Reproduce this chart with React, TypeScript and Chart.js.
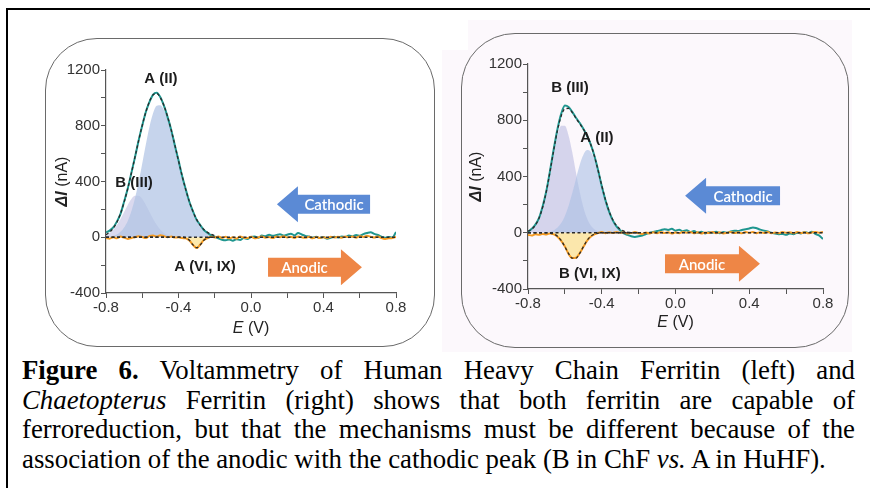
import React, { useEffect, useRef } from 'react';
import { Chart, registerables } from 'chart.js';
Chart.register(...registerables);

// ---------- data ----------
const potential = [
  -0.8, -0.78, -0.76, -0.74, -0.72, -0.7, -0.68, -0.66, -0.64, -0.62,
  -0.6, -0.58, -0.56, -0.54, -0.52, -0.5, -0.48, -0.46, -0.44, -0.42,
  -0.4, -0.38, -0.36, -0.34, -0.32, -0.3, -0.28, -0.26, -0.24, -0.22,
  -0.2, -0.18, -0.16, -0.14, -0.12, -0.1, -0.08, -0.06, -0.04, -0.02,
  0.0, 0.02, 0.04, 0.06, 0.08, 0.1, 0.12, 0.14, 0.16, 0.18,
  0.2, 0.22, 0.24, 0.26, 0.28, 0.3, 0.32, 0.34, 0.36, 0.38,
  0.4, 0.42, 0.44, 0.46, 0.48, 0.5, 0.52, 0.54, 0.56, 0.58,
  0.6, 0.62, 0.64, 0.66, 0.68, 0.7, 0.72, 0.74, 0.76, 0.78,
  0.8,
];
const fitPotential = [
  -0.8, -0.78, -0.76, -0.74, -0.72, -0.7, -0.68, -0.66, -0.64, -0.62,
  -0.6, -0.58, -0.56, -0.54, -0.52, -0.5, -0.48, -0.46, -0.44, -0.42,
  -0.4, -0.38, -0.36, -0.34, -0.32, -0.3, -0.28, -0.26, -0.24, -0.22,
  -0.2,
];
const baselinePotential = [-0.8, 0.8];
const baselineCurrent = [0, 0];

// Human heavy chain ferritin (left)
const huhfCathodic = [
  35, 48, 70, 112, 168, 256, 350, 462, 575, 694,
  801, 900, 972, 1024, 1036, 1004, 942, 862, 770, 658,
  552, 440, 345, 255, 186, 126, 88, 52, 32, 14,
  4, -8, -18, -22, -16, -25, -14, -20, -6, -12,
  2, 6, -4, 12, 8, 18, 10, 16, 22, 12,
  18, 26, 14, 30, 20, 10, 6, -4, 4, -6,
  2, -10, -4, 4, -2, 6, 2, 12, 6, 16,
  10, 22, 30, 36, 24, 16, 4, -4, 2, -2,
  38,
];
const huhfAnodic = [
  -5, -10, 0, -8, 5, -3, -12, -5, 0, 8,
  2, -6, 10, 12, 5, 15, 8, 0, 5, -2,
  0, -6, -8, -24, -55, -78, -52, -20, -6, 4,
  -2, 6, -5, 3, -8, 0, -10, 5, -3, -6,
  4, -8, -2, 6, -4, 2, -6, 5, 0, 8,
  -2, 4, -5, 6, 0, -4, 3, -8, 2, -5,
  0, -6, 4, -2, 3, -4, 6, 0, 5, -3,
  8, 2, 10, 4, -2, 6, -6, -12, -8, -5,
  2,
];
const huhfFitA = [
  2, 5, 11, 20, 39, 70, 117, 186, 279, 396,
  529, 667, 793, 891, 944, 947, 912, 848, 760, 658,
  548, 441, 342, 256, 184, 128, 86, 56, 35, 21,
  12,
];
const huhfFitB = [
  16, 31, 54, 87, 131, 182, 232, 274, 297, 297,
  274, 232, 182, 131, 87, 54, 31, 16, 8, 3,
  1, 0, 0, 0, 0, 0, 0, 0, 0, 0,
  0,
];
const huhfFitAnodic = [
  0, 0, 0, 0, 0, 0, 0, 0, 0, 0,
  0, 0, 0, 0, 0, 0, 0, 0, 0, 0,
  0, 0, -4, -21, -55, -75, -55, -21, -4, 0,
  0,
];

// Chaetopterus ferritin (right)
const chfCathodic = [
  5, 28, 58, 106, 190, 300, 445, 598, 738, 845,
  905, 895, 860, 818, 782, 740, 690, 628, 548, 446,
  332, 232, 150, 88, 45, 18, -5, -15, -25, -30,
  -25, -20, -10, 0, 5, 12, 18, 25, 20, 28,
  15, 22, 10, 18, 5, 12, 0, 8, -5, 3,
  0, 8, -3, 5, 0, 10, 15, 12, 20, 25,
  30, 38, 32, 22, 15, 10, 0, -5, -10, -8,
  -15, -5, -10, 0, -5, 5, -2, 8, -10, -20,
  -45,
];
const chfAnodic = [
  -15, -20, -10, -15, -8, -12, -5, -12, -28, -58,
  -98, -150, -180, -178, -146, -102, -58, -28, -12, -2,
  5, -3, 4, -2, 6, 0, 4, -6, -2, 5,
  -4, -8, 2, -5, 3, -3, 6, -2, 4, -5,
  2, -3, 6, 0, 5, -4, 3, -6, 2, -2,
  5, -3, 4, -5, 0, 6, -2, 3, -4, 5,
  0, 6, -3, 4, -2, 5, -4, 2, -3, 6,
  0, 4, -3, 5, -2, 3, -4, 2, 6, 0,
  5,
];
const chfFitA = [
  0, 0, 0, 0, 1, 3, 8, 18, 37, 69,
  120, 192, 282, 383, 480, 553, 588, 576, 521, 433,
  332, 235, 153, 92, 51, 26, 12, 5, 2, 1,
  0,
];
const chfFitB = [
  11, 25, 54, 104, 184, 295, 431, 573, 692, 761,
  761, 692, 573, 431, 295, 184, 104, 54, 25, 11,
  4, 1, 0, 0, 0, 0, 0, 0, 0, 0,
  0,
];
const chfFitAnodic = [
  0, 0, 0, 0, 0, -1, -3, -9, -25, -55,
  -100, -148, -181, -181, -148, -100, -55, -25, -9, -3,
  -1, 0, 0, 0, 0, 0, 0, 0, 0, 0,
  0,
];

const xTickValues = [-0.8, -0.4, 0.0, 0.4, 0.8];
const xTickLabels = ['-0.8', '-0.4', '0.0', '0.4', '0.8'];
const yTickValues = [-400, 0, 400, 800, 1200];
const yTickLabels = ['-400', '0', '400', '800', '1200'];

// ---------- helpers ----------
type Label = { text: string; x: number; y: number };
type Arrow = { text: string; from: number; to: number; y: number; color: string };

const pts = (xs: number[], ys: number[]) => xs.map((x, i) => ({ x, y: ys[i] }));

const SANS = '"Liberation Sans", Arial, sans-serif';

function drawParts(ctx: CanvasRenderingContext2D, parts: { t: string; f: string }[], cx: number, cy: number) {
  let total = 0;
  parts.forEach(p => { ctx.font = p.f; total += ctx.measureText(p.t).width; });
  let x = cx - total / 2;
  ctx.textAlign = 'left';
  ctx.textBaseline = 'middle';
  parts.forEach(p => { ctx.font = p.f; ctx.fillText(p.t, x, cy); x += ctx.measureText(p.t).width; });
}

type PanelProps = {
  width: number; height: number;
  padTop: number; padRight: number; yAxisWidth: number; xAxisHeight: number;
  yTitleGap: number; xTitleGap: number;
  cathodic: number[]; anodic: number[]; fitA: number[]; fitB: number[]; fitAnodic: number[];
  fillA: string; fillB: string;
  labels: Label[]; arrows: Arrow[];
};

function Panel(p: PanelProps) {
  const ref = useRef<HTMLCanvasElement>(null);
  useEffect(() => {
    if (!ref.current) return;
    const fitTotal = p.fitA.map((v, i) => v + p.fitB[i]);
    const overlay = {
      id: 'overlay',
      afterDraw(chart: any) {
        const { ctx, scales, chartArea } = chart;
        const x = scales.x, y = scales.y;
        ctx.save();
        p.arrows.forEach(a => {
          const xt = x.getPixelForValue(a.from);
          const xp = x.getPixelForValue(a.to);
          const yc = y.getPixelForValue(a.y);
          const dir = Math.sign(xp - xt);
          const headLen = 21, bodyH = 19, headH = 36;
          const xb = xp - dir * headLen;
          ctx.beginPath();
          ctx.moveTo(xt, yc - bodyH / 2);
          ctx.lineTo(xb, yc - bodyH / 2);
          ctx.lineTo(xb, yc - headH / 2);
          ctx.lineTo(xp, yc);
          ctx.lineTo(xb, yc + headH / 2);
          ctx.lineTo(xb, yc + bodyH / 2);
          ctx.lineTo(xt, yc + bodyH / 2);
          ctx.closePath();
          ctx.fillStyle = a.color;
          ctx.fill();
          ctx.fillStyle = '#ffffff';
          ctx.font = '600 15px Lato, "Open Sans", sans-serif';
          ctx.textAlign = 'center';
          ctx.textBaseline = 'middle';
          ctx.fillText(a.text, (xt + xb) / 2, yc + 1);
        });
        ctx.fillStyle = '#1c1c1c';
        ctx.font = `bold 15px ${SANS}`;
        ctx.textAlign = 'center';
        ctx.textBaseline = 'middle';
        p.labels.forEach(l => {
          ctx.fillText(l.text, x.getPixelForValue(l.x), y.getPixelForValue(l.y));
        });
        ctx.fillStyle = '#222';
        const cy = (chartArea.top + chartArea.bottom) / 2;
        ctx.save();
        ctx.translate(chartArea.left - p.yTitleGap, cy);
        ctx.rotate(-Math.PI / 2);
        drawParts(ctx, [
          { t: '\u0394I', f: `italic bold 16px ${SANS}` },
          { t: ' (nA)', f: `16px ${SANS}` },
        ], 0, 0);
        ctx.restore();
        drawParts(ctx, [
          { t: 'E', f: `italic 16px ${SANS}` },
          { t: ' (V)', f: `16px ${SANS}` },
        ], (chartArea.left + chartArea.right) / 2, chartArea.bottom + p.xTitleGap);
        ctx.restore();
      },
    };
    const dashed = { borderColor: '#2a2a2a', borderWidth: 1.3, borderDash: [3, 2.5], fill: false, pointRadius: 0, cubicInterpolationMode: 'monotone' };
    const chart = new Chart(ref.current, {
      type: 'line',
      data: {
        datasets: [
          { ...dashed, data: pts(fitPotential, fitTotal), order: 0 },
          { ...dashed, data: pts(fitPotential, p.fitAnodic), order: 0 },
          { ...dashed, data: pts(baselinePotential, baselineCurrent), order: 0 },
          { data: pts(potential, p.anodic), borderColor: '#f59b22', borderWidth: 2, pointRadius: 0, fill: false, order: 1, cubicInterpolationMode: 'monotone' },
          { data: pts(potential, p.cathodic), borderColor: '#1f968f', borderWidth: 2, pointRadius: 0, fill: false, order: 2, cubicInterpolationMode: 'monotone' },
          { data: pts(fitPotential, p.fitAnodic), borderWidth: 0, pointRadius: 0, fill: 'origin', backgroundColor: 'rgba(251, 226, 145, 0.75)', order: 3, cubicInterpolationMode: 'monotone' },
          { data: pts(fitPotential, p.fitA), borderWidth: 0, pointRadius: 0, fill: 'origin', backgroundColor: p.fillA, order: 4, cubicInterpolationMode: 'monotone' },
          { data: pts(fitPotential, p.fitB), borderWidth: 0, pointRadius: 0, fill: 'origin', backgroundColor: p.fillB, order: 5, cubicInterpolationMode: 'monotone' },
        ] as any,
      },
      options: {
        animation: false,
        responsive: false,
        maintainAspectRatio: false,
        devicePixelRatio: 1,
        layout: { padding: { top: p.padTop, right: p.padRight, left: 0, bottom: 0 } },
        plugins: { legend: { display: false }, tooltip: { enabled: false }, title: { display: false } },
        scales: {
          x: {
            type: 'linear', min: -0.8, max: 0.8,
            afterFit: (s: any) => { s.height = p.xAxisHeight; },
            ticks: {
              stepSize: 0.2, autoSkip: false, maxRotation: 0, padding: 1, color: '#333',
              font: { family: SANS, size: 15 },
              callback: (v: any) => {
                const i = xTickValues.findIndex(t => Math.abs(t - Number(v)) < 1e-6);
                return i >= 0 ? xTickLabels[i] : '';
              },
            },
            grid: { drawOnChartArea: false, drawTicks: true, tickLength: 5, color: '#555', tickWidth: 1 },
            border: { display: true, color: '#555', width: 1.2 },
          },
          y: {
            type: 'linear', min: -400, max: 1200,
            afterFit: (s: any) => { s.width = p.yAxisWidth; },
            ticks: {
              stepSize: 200, autoSkip: false, padding: 1, color: '#333',
              font: { family: SANS, size: 15 },
              callback: (v: any) => {
                const i = yTickValues.indexOf(Math.round(Number(v)));
                return i >= 0 ? yTickLabels[i] : '';
              },
            },
            grid: { drawOnChartArea: false, drawTicks: true, tickLength: 5, color: '#555', tickWidth: 1 },
            border: { display: true, color: '#555', width: 1.2 },
          },
        },
      } as any,
      plugins: [overlay],
    });
    return () => chart.destroy();
  }, []);
  return <canvas ref={ref} width={p.width} height={p.height} style={{ width: p.width, height: p.height, display: 'block' }} />;
}

const leftLabels: Label[] = [
  { text: 'A (II)', x: -0.497, y: 1134 },
  { text: 'B (III)', x: -0.645, y: 387 },
  { text: 'A (VI, IX)', x: -0.254, y: -215 },
];
const leftArrows: Arrow[] = [
  { text: 'Cathodic', from: 0.657, to: 0.143, y: 237, color: '#5b8ad5' },
  { text: 'Anodic', from: 0.094, to: 0.612, y: -215, color: '#ee8646' },
];
const rightLabels: Label[] = [
  { text: 'B (III)', x: -0.572, y: 1031 },
  { text: 'A (II)', x: -0.426, y: 676 },
  { text: 'B (VI, IX)', x: -0.464, y: -292 },
];
const rightArrows: Arrow[] = [
  { text: 'Cathodic', from: 0.567, to: 0.052, y: 263, color: '#5b8ad5' },
  { text: 'Anodic', from: -0.057, to: 0.458, y: -220, color: '#ee8646' },
];

const lineStyle: React.CSSProperties = {
  textAlign: 'justify',
  textAlignLast: 'justify' as any,
};

export default function App() {
  return (
    <div style={{ position: 'fixed', left: 0, top: 0, width: 870, height: 488, overflow: 'hidden', background: '#fff' }}>
      <div style={{ position: 'absolute', left: 6, top: 8, width: 900, height: 600, borderTop: '2px solid #000', borderLeft: '2px solid #000' }} />
      <div style={{ position: 'absolute', left: 442, top: 20, width: 410, height: 332, background: '#fcf8fc' }} />
      <div style={{ position: 'absolute', left: 442, top: 20, width: 26, height: 30, background: '#fff' }} />
      <div style={{ position: 'absolute', left: 45, top: 38, width: 388, height: 307, border: '1.5px solid #6a6a6a', borderRadius: 52 }} />
      <div style={{ position: 'absolute', left: 461, top: 33, width: 386, height: 313, border: '1.5px solid #6a6a6a', borderRadius: 54 }} />
      <div style={{ position: 'absolute', left: 45, top: 38 }}>
        <Panel width={390} height={309} padTop={32} padRight={39} yAxisWidth={61} xAxisHeight={54}
          yTitleGap={43} xTitleGap={36}
          cathodic={huhfCathodic} anodic={huhfAnodic} fitA={huhfFitA} fitB={huhfFitB} fitAnodic={huhfFitAnodic}
          fillA="rgba(176, 196, 228, 0.72)" fillB="rgba(205, 204, 232, 0.75)"
          labels={leftLabels} arrows={leftArrows} />
      </div>
      <div style={{ position: 'absolute', left: 462, top: 33 }}>
        <Panel width={387} height={315} padTop={31} padRight={26} yAxisWidth={66} xAxisHeight={59}
          yTitleGap={51} xTitleGap={34}
          cathodic={chfCathodic} anodic={chfAnodic} fitA={chfFitA} fitB={chfFitB} fitAnodic={chfFitAnodic}
          fillA="rgba(170, 192, 228, 0.6)" fillB="rgba(196, 196, 230, 0.7)"
          labels={rightLabels} arrows={rightArrows} />
      </div>
      <div style={{ position: 'absolute', left: 22, top: 356, width: 833, fontFamily: '"Liberation Serif", "Times New Roman", serif', fontSize: 26.8, lineHeight: '29.5px', color: '#000' }}>
        <div style={lineStyle}><b>Figure 6.</b> Voltammetry of Human Heavy Chain Ferritin (left) and</div>
        <div style={lineStyle}><i>Chaetopterus</i> Ferritin (right) shows that both ferritin are capable of</div>
        <div style={lineStyle}>ferroreduction, but that the mechanisms must be different because of the</div>
        <div style={{ textAlign: 'left' }}>association of the anodic with the cathodic peak (B in ChF <i>vs.</i> A in HuHF).</div>
      </div>
    </div>
  );
}
